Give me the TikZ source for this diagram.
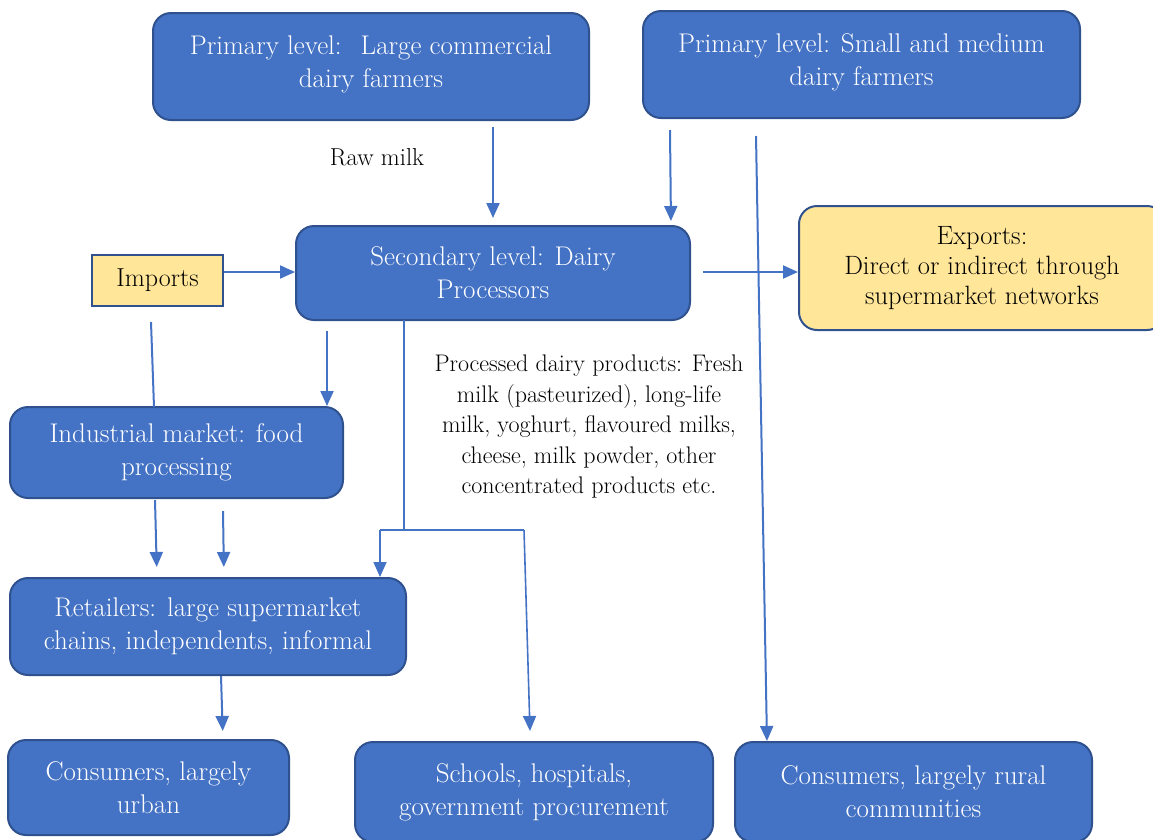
\documentclass[tikz,border=0pt]{standalone}
\usepackage{fontspec}
\usetikzlibrary{arrows.meta}
\definecolor{boxblue}{HTML}{4472C4}
\definecolor{boxedge}{HTML}{2F528F}
\definecolor{boxyellow}{HTML}{FFE699}
\tikzset{
  bluebox/.style={draw=boxedge, line width=2pt, fill=boxblue, rounded corners=18pt,
    text=white, align=center, font=\fontsize{27}{33}\selectfont, inner sep=0pt},
  yellowbox/.style={draw=boxedge, line width=2pt, fill=boxyellow, rounded corners=18pt,
    text=black, align=center, font=\fontsize{26.5}{30}\selectfont, inner sep=0pt},
  arr/.style={draw=boxblue, line width=2pt, -{Triangle[length=15pt,width=13pt]}},
  plain/.style={draw=boxblue, line width=2pt},
  thin/.style={draw=boxblue, line width=1.2pt},
  thinarr/.style={draw=boxblue, line width=1.6pt, -{Triangle[length=15pt,width=13pt]}},
  note/.style={text=black, align=center, inner sep=0pt}
}
\begin{document}
\begin{tikzpicture}[x=1pt,y=-1pt]
\useasboundingbox (0,0) rectangle (1153,839);
% boxes
\node[bluebox, minimum width=436pt, minimum height=107pt] (A) at (371,66.5)
  {Primary level:~ Large commercial\\dairy farmers\\[-23pt]\mbox{}};
\node[bluebox, minimum width=437pt, minimum height=107pt] (B) at (861.5,64.5)
  {Primary level: Small and medium\\dairy farmers\\[-23pt]\mbox{}};
\node[bluebox, minimum width=394pt, minimum height=94pt] (C) at (493,273)
  {Secondary level: Dairy\\Processors};
\node[yellowbox, minimum width=366pt, minimum height=124pt] (E) at (982,268)
  {Exports:\\Direct or indirect through\\supermarket networks};
\node[draw=boxedge, line width=2pt, fill=boxyellow, minimum width=131pt, minimum height=51pt,
  inner sep=0pt, font=\fontsize{26}{28}\selectfont] (I) at (157.5,280.5) {Imports};
\node[bluebox, minimum width=333pt, minimum height=91pt] (D) at (176.5,452.5)
  {Industrial market: food\\processing};
\node[bluebox, minimum width=396pt, minimum height=97pt] (R) at (208,626.5)
  {Retailers: large supermarket\\chains, independents, informal};
\node[bluebox, minimum width=281pt, minimum height=95pt] (U) at (148.5,787.5)
  {Consumers, largely\\urban};
\node[bluebox, minimum width=358pt, minimum height=100pt] (S) at (534,792)
  {Schools, hospitals,\\government procurement};
\node[bluebox, minimum width=357pt, minimum height=100pt] (V) at (913.5,792)
  {Consumers, largely rural\\communities};
% text labels
\node[note, font=\fontsize{24.5}{24}\selectfont] (raw) at (377,157) {Raw milk};
\node[note, font=\fontsize{24}{30.5}\selectfont] (proc) at (589,427)
  {Processed dairy products: Fresh\\milk (pasteurized), long-life\\milk, yoghurt, flavoured milks,\\cheese, milk powder, other\\concentrated products etc.};
% coordinates
\coordinate (a1) at (493,127);
\coordinate (a2) at (670,130);
\coordinate (r1) at (756,136);
\coordinate (r2) at (767,742);
\coordinate (x1) at (703,272);
\coordinate (i1) at (151,322);
\coordinate (i2) at (154,407);
\coordinate (c1) at (327,331);
\coordinate (d1) at (155,500);
\coordinate (d2) at (223,511);
\coordinate (p0) at (404,320);
\coordinate (p1) at (404,530);
\coordinate (pl) at (380,530);
\coordinate (pr) at (524,530);
\coordinate (pe) at (530,731);
\coordinate (t1) at (221,676);
% connectors
\draw[arr, shorten >=7pt] (a1) -- (a1 |- C.north);
\draw[arr, shorten >=5pt] (a2) -- (671,226);
\draw[arr, shorten >=1pt] (r1) -- (r2);
\draw[arr] (x1) -- (E.west |- x1);
\draw[arr] (I.east |- 0,272) -- (C.west |- 0,272);
\draw[plain] (i1) -- (i2);
\draw[arr] (c1) -- (c1 |- D.north);
\draw[arr, shorten >=11pt] (d1) -- (157,578);
\draw[arr, shorten >=11pt] (d2) -- (224,578);
\draw[thin] (p0) -- (p1);
\draw[thin] (pl) -- (pr);
\draw[thinarr] (pl) -- (pl |- R.north);
\draw[thinarr] (pr) -- (pe);
\draw[arr, shorten >=9pt] (t1) -- (223,740);
\end{tikzpicture}
\end{document}
